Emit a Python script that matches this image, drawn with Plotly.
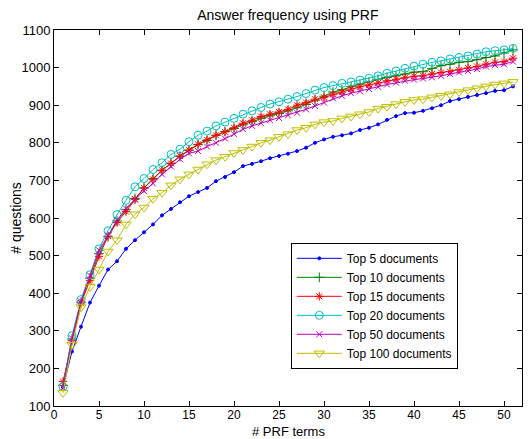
import plotly.graph_objects as go

# nombre de termes PRF
terms = list(range(1, 52))

top5 = [150, 245, 311, 375, 420, 463, 485, 518, 541, 562,
        583, 607, 624, 642, 658, 669, 680, 698, 709, 722,
        738, 744, 751, 759, 765, 771, 778, 787, 800, 809,
        816, 820, 825, 834, 840, 849, 861, 871, 879, 880,
        885, 892, 900, 911, 916, 922, 927, 932, 938, 940, 950]
top10 = [155, 278, 376, 440, 505, 550, 592, 622, 652, 680,
         705, 727, 746, 764, 780, 795, 806, 820, 830, 838,
         848, 856, 865, 872, 878, 885, 893, 902, 913, 924,
         935, 941, 949, 956, 962, 969, 974, 978, 983, 988,
         989, 998, 1005, 1009, 1014, 1016, 1021, 1027, 1031, 1039, 1047]
top15 = [165, 274, 374, 434, 498, 552, 588, 617, 649, 680,
         703, 727, 745, 765, 781, 796, 808, 820, 829, 840,
         852, 860, 870, 876, 882, 889, 900, 907, 916, 921,
         929, 935, 943, 949, 954, 959, 965, 969, 973, 977,
         978, 983, 987, 989, 994, 999, 1003, 1009, 1014, 1016, 1025]
top20 = [151, 287, 383, 449, 518, 566, 609, 647, 683, 705,
         729, 747, 769, 783, 803, 820, 831, 845, 855, 865,
         876, 885, 894, 903, 909, 916, 923, 931, 940, 947,
         952, 958, 962, 967, 972, 978, 985, 991, 998, 1004,
         1009, 1014, 1018, 1023, 1027, 1031, 1036, 1042, 1045, 1047, 1051]
top50 = [148, 280, 378, 447, 514, 553, 594, 625, 650, 672,
         692, 716, 737, 756, 772, 778, 790, 800, 811, 823,
         836, 845, 852, 860, 866, 873, 880, 889, 898, 907,
         918, 925, 932, 937, 943, 949, 955, 960, 965, 968,
         971, 974, 978, 983, 987, 991, 996, 1003, 1007, 1009, 1016]
top100 = [135, 263, 363, 417, 463, 511, 541, 583, 610, 628,
          651, 667, 687, 703, 716, 729, 743, 754, 763, 773,
          781, 790, 800, 807, 816, 823, 834, 840, 849, 855,
          858, 865, 870, 876, 882, 891, 896, 903, 909, 914,
          916, 921, 925, 929, 935, 940, 945, 950, 955, 958, 962]

series = [
    ("Top 5 documents", top5, "#0000FF", "circle", 3),
    ("Top 10 documents", top10, "#008000", "cross-thin-open", 7),
    ("Top 15 documents", top15, "#FF0000", "asterisk-open", 7),
    ("Top 20 documents", top20, "#00BFBF", "circle-open", 8),
    ("Top 50 documents", top50, "#BF00BF", "x-thin-open", 6),
    ("Top 100 documents", top100, "#BFBF00", "triangle-down-open", 9),
]

fig = go.Figure()
for name, vals, col, sym, sz in series:
    fig.add_trace(go.Scatter(
        x=terms, y=vals, name=name, mode="lines+markers",
        line=dict(color=col, width=1),
        marker=dict(symbol=sym, size=sz, color=col, line=dict(color=col, width=1)),
    ))

axis_style = dict(
    showgrid=False, zeroline=False, showline=True, linecolor="black", linewidth=1,
    mirror="ticks", ticks="inside", ticklen=5, tickcolor="black", automargin=False,
)

# la page a une marge de 8 px : on reduit la figure d'autant
fig.update_layout(
    width=523, height=431,
    margin=dict(l=46, r=9, t=22, b=33),
    paper_bgcolor="white", plot_bgcolor="white",
    font=dict(family="Liberation Sans, Arial, sans-serif", color="black"),
    title=dict(text="Answer frequency using PRF", x=0.535, xanchor="center",
               y=0.984, yanchor="middle", font=dict(size=14)),
    xaxis=dict(range=[0, 52], tickvals=list(range(0, 51, 5)),
               tickfont=dict(size=12, color="black"), ticklabelstandoff=-2, **axis_style),
    yaxis=dict(range=[100, 1100], tickvals=list(range(100, 1101, 100)),
               tickfont=dict(size=13, color="black"),
               title=dict(text="# questions", font=dict(size=14), standoff=7), **axis_style),
    legend=dict(x=0.506, y=0.434, xanchor="left", yanchor="top",
                bgcolor="white", bordercolor="black", borderwidth=1,
                font=dict(size=12), tracegroupgap=0, itemwidth=45),
    showlegend=True,
)

# titre de l'axe x place a la main
fig.add_annotation(text="# PRF terms", xref="paper", yref="paper", x=0.5, y=-0.0665,
                   xanchor="center", yanchor="middle", showarrow=False, borderpad=0,
                   font=dict(size=13))

fig.write_html("out.html")
